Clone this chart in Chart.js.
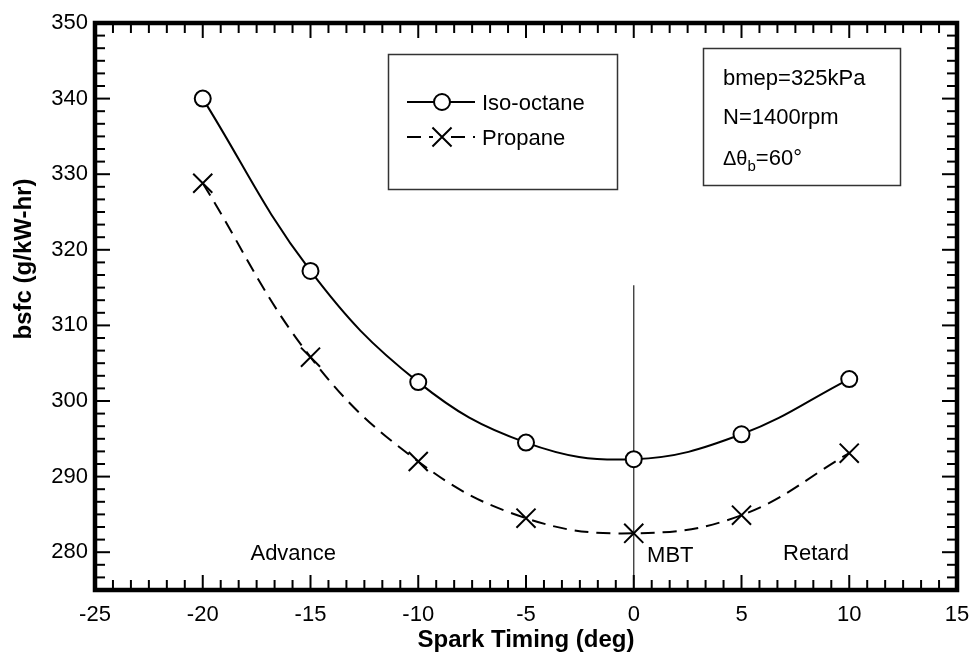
<!DOCTYPE html>
<html>
<head>
<meta charset="utf-8">
<script src="https://cdn.jsdelivr.net/npm/chart.js@4.4.1/dist/chart.umd.min.js"></script>
<style>
  html, body { margin: 0; padding: 0; background: #fff; }
  #wrap { width: 974px; height: 658px; }
</style>
</head>
<body>
<div id="wrap"><canvas id="bsfc"></canvas></div>
<script>
// ─── Data ───
const sparkTiming = [-20, -15, -10, -5, 0, 5, 10];
const isoOctane   = [340.0, 317.2, 302.5, 294.5, 292.3, 295.6, 302.9];
const propane     = [328.8, 305.8, 292.0, 284.5, 282.5, 284.9, 293.1];
const mbtTiming   = [0, 0];
const mbtBsfc     = [315.3, 275];
const xTickValues = [-25, -20, -15, -10, -5, 0, 5, 10, 15];
const yTickValues = [280, 290, 300, 310, 320, 330, 340, 350];
const infoLines   = ['bmep=325kPa', 'N=1400rpm'];
const regionLabels = ['Advance', 'MBT', 'Retard'];

// ─── Look ───
const FONT = "'Liberation Sans', Arial, Helvetica, sans-serif";
const regionPos = [
    { x: -15.8, y: 280, align: 'center' },
    { x: 0.62,  y: 279.7, align: 'left' },
    { x: 8.46,  y: 280, align: 'center' }
];

// inward ticks on all four sides + heavy frame
const framePlugin = {
    id: 'frame',
    afterDatasetsDraw(chart) {
        const { ctx, chartArea: a, scales: { x, y } } = chart;
        ctx.save();
        ctx.strokeStyle = '#000';
        ctx.lineWidth = 2;
        const seg = (x1, y1, x2, y2) => { ctx.beginPath(); ctx.moveTo(x1, y1); ctx.lineTo(x2, y2); ctx.stroke(); };

        const xStep = 5 / 6;
        for (let i = 0; x.min + i * xStep <= x.max + 1e-6; i++) {
            const px = x.getPixelForValue(x.min + i * xStep);
            const len = i % 6 === 0 ? 15 : 10;
            seg(px, a.bottom, px, a.bottom - len);
            seg(px, a.top, px, a.top + len);
        }
        const yStep = 5 / 3;
        for (let i = 0; y.max - i * yStep >= y.min - 1e-6; i++) {
            const py = y.getPixelForValue(y.max - i * yStep);
            const len = i % 6 === 0 ? 15 : 10;
            seg(a.left, py, a.left + len, py);
            seg(a.right, py, a.right - len, py);
        }

        ctx.lineWidth = 4.5;
        ctx.strokeRect(a.left, a.top, a.right - a.left, a.bottom - a.top);
        ctx.restore();
    }
};

// legend box, info box, region labels and y title
const notesPlugin = {
    id: 'notes',
    afterDraw(chart) {
        const { ctx, scales: { x, y } } = chart;
        const ds = chart.data.datasets;
        ctx.save();
        ctx.fillStyle = '#000';
        ctx.textBaseline = 'alphabetic';

        // legend
        ctx.strokeStyle = '#333';
        ctx.lineWidth = 1.5;
        ctx.strokeRect(388.5, 54.5, 229, 135);
        const rows = [{ d: ds[0], cy: 102 }, { d: ds[1], cy: 137 }];
        rows.forEach(({ d, cy }) => {
            ctx.strokeStyle = '#000';
            ctx.lineWidth = 2;
            ctx.setLineDash(d.borderDash || []);
            ctx.beginPath(); ctx.moveTo(407, cy); ctx.lineTo(475, cy); ctx.stroke();
            ctx.setLineDash([]);
            const cx = 442;
            if (d.pointStyle === 'circle') {
                ctx.fillStyle = '#fff';
                ctx.beginPath(); ctx.arc(cx, cy, d.pointRadius, 0, Math.PI * 2); ctx.fill(); ctx.stroke();
            } else {
                ctx.fillStyle = '#fff';
                ctx.fillRect(cx - 9, cy - 4, 18, 8);
                const r = d.pointRadius * Math.SQRT1_2;
                ctx.beginPath();
                ctx.moveTo(cx - r, cy - r); ctx.lineTo(cx + r, cy + r);
                ctx.moveTo(cx + r, cy - r); ctx.lineTo(cx - r, cy + r);
                ctx.stroke();
            }
            ctx.fillStyle = '#000';
            ctx.font = '22px ' + FONT;
            ctx.fillText(d.label, 482, cy + 8);
        });

        // info box
        ctx.strokeStyle = '#333';
        ctx.lineWidth = 1.5;
        ctx.strokeRect(703.5, 48.5, 197, 137);
        ctx.font = '22px ' + FONT;
        ctx.fillText(infoLines[0], 723, 85);
        ctx.fillText(infoLines[1], 723, 124);
        let tx = 723;
        ctx.font = '20px ' + FONT;
        ctx.fillText('\u0394\u03b8', tx, 165);
        tx += ctx.measureText('\u0394\u03b8').width;
        ctx.font = '15px ' + FONT;
        ctx.fillText('b', tx, 171);
        tx += ctx.measureText('b').width;
        ctx.font = '22px ' + FONT;
        ctx.fillText('=60\u00b0', tx, 165);

        // region labels
        ctx.font = '22px ' + FONT;
        regionLabels.forEach((t, i) => {
            const p = regionPos[i];
            ctx.textAlign = p.align;
            ctx.fillText(t, x.getPixelForValue(p.x), y.getPixelForValue(p.y) + 8);
        });

        // y title
        ctx.translate(24, 259);
        ctx.rotate(-Math.PI / 2);
        ctx.textAlign = 'center';
        ctx.textBaseline = 'middle';
        ctx.font = 'bold 24px ' + FONT;
        ctx.fillText('bsfc (g/kW-hr)', 0, 0);
        ctx.restore();
    }
};

const toPoints = (xs, ys) => xs.map((v, i) => ({ x: v, y: ys[i] }));

new Chart(document.getElementById('bsfc'), {
    type: 'line',
    data: {
        datasets: [
            {
                label: 'Iso-octane',
                data: toPoints(sparkTiming, isoOctane),
                borderColor: '#000',
                borderWidth: 2,
                tension: 0.4,
                pointStyle: 'circle',
                pointRadius: 8,
                pointBorderWidth: 2,
                pointBackgroundColor: '#fff',
                pointBorderColor: '#000'
            },
            {
                label: 'Propane',
                data: toPoints(sparkTiming, propane),
                borderColor: '#000',
                borderWidth: 2,
                borderDash: [14, 8],
                tension: 0.4,
                pointStyle: 'crossRot',
                pointRadius: 13.5,
                pointBorderWidth: 2,
                pointBorderColor: '#000'
            },
            {
                label: 'MBT',
                data: toPoints(mbtTiming, mbtBsfc),
                borderColor: '#333',
                borderWidth: 1.3,
                pointRadius: 0,
                tension: 0
            }
        ]
    },
    options: {
        responsive: true,
        maintainAspectRatio: false,
        animation: false,
        layout: { padding: { top: 23, right: 17, left: 0, bottom: 0 } },
        plugins: {
            legend: { display: false },
            tooltip: { enabled: false }
        },
        scales: {
            x: {
                type: 'linear',
                min: -25,
                max: 15,
                afterBuildTicks: s => { s.ticks = xTickValues.map(v => ({ value: v })); },
                afterFit: s => { s.height = 68; s.paddingLeft = 0; s.paddingRight = 0; },
                grid: { display: false, drawTicks: false },
                border: { display: false },
                ticks: { color: '#000', padding: 12, font: { family: FONT, size: 22 } },
                title: {
                    display: true,
                    text: 'Spark Timing (deg)',
                    color: '#000',
                    font: { family: FONT, size: 24, weight: 'bold' },
                    padding: { top: 0, bottom: 3 }
                }
            },
            y: {
                min: 275,
                max: 350,
                afterBuildTicks: s => { s.ticks = yTickValues.map(v => ({ value: v })); },
                afterFit: s => { s.width = 95; s.paddingTop = 0; s.paddingBottom = 0; },
                grid: { display: false, drawTicks: false },
                border: { display: false },
                ticks: { color: '#000', padding: 7, font: { family: FONT, size: 22 } }
            }
        }
    },
    plugins: [framePlugin, notesPlugin]
});
</script>
</body>
</html>
